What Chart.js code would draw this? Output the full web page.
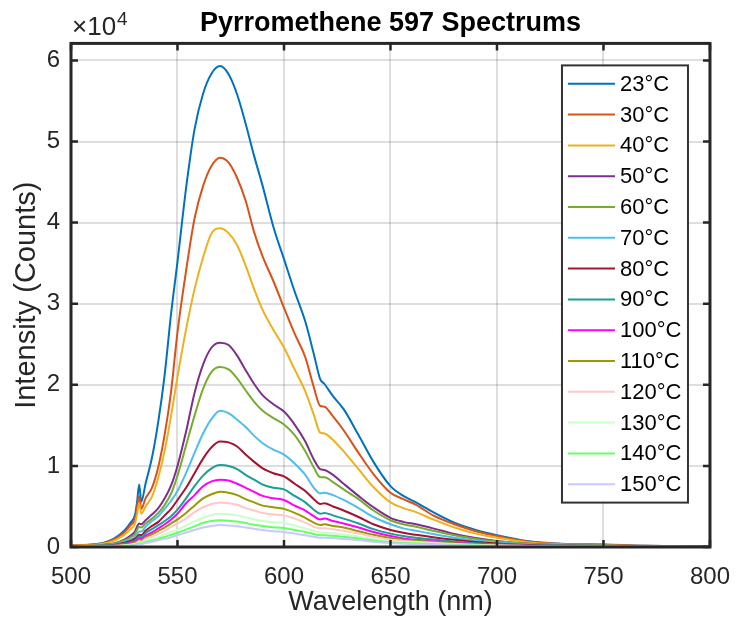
<!DOCTYPE html>
<html>
<head>
<meta charset="utf-8">
<title>Pyrromethene 597 Spectrums</title>
<script src="https://cdn.jsdelivr.net/npm/chart.js@4.4.1/dist/chart.umd.min.js"></script>
<style>
  body { margin: 0; background: #fff; }
  canvas { display: block; }
</style>
</head>
<body>
<canvas id="spectrumChart" width="746" height="628"></canvas>
<script>
// Wavelength axis (nm), shared by every spectrum
const wavelengths = [500, 510, 515, 520, 525, 528, 530, 531, 532, 533,
    535, 538, 541, 544, 547, 550, 554, 558, 562, 566,
    570, 574, 578, 582, 586, 590, 595, 600, 605, 610,
    614, 617, 619, 623, 628, 635, 642, 650, 656, 662,
    670, 680, 690, 700, 715, 730, 750, 770, 800];

// Intensity (counts), one array per temperature
const counts23 = [200, 300, 500, 1000, 2000, 3000, 3900, 5500, 7700, 5600,
    7800, 11000, 15500, 21300, 28800, 35200, 44200, 51500, 55900, 58400,
    59300, 58300, 55800, 52200, 48200, 44500, 39500, 35500, 31500, 27800,
    23800, 20700, 20100, 18600, 17000, 13800, 10500, 7500, 6300, 5500,
    4300, 3000, 2100, 1450, 700, 400, 300, 150, 100];
const counts30 = [200, 300, 450, 900, 1800, 2700, 3400, 4800, 6300, 4700,
    6000, 7300, 9900, 13900, 19200, 26500, 34000, 40500, 44500, 47000,
    48000, 47400, 45500, 42700, 38800, 35800, 32800, 29500, 26300, 23400,
    19700, 17400, 17300, 16100, 14400, 11600, 9000, 6700, 5900, 5200,
    3900, 2800, 1950, 1350, 650, 380, 280, 140, 90];
const counts40 = [150, 250, 400, 750, 1500, 2200, 2900, 4000, 5400, 4100,
    5000, 6200, 8600, 11900, 16200, 21000, 26800, 31800, 35700, 38700,
    39300, 38700, 37200, 34700, 31800, 29200, 26800, 24600, 21900, 19200,
    16300, 14100, 14000, 13200, 11800, 9600, 7400, 5500, 4800, 4300,
    3400, 2400, 1650, 1150, 550, 330, 250, 120, 80];
const counts50 = [100, 150, 250, 450, 900, 1400, 1900, 2500, 2900, 2800,
    3300, 4000, 4800, 6000, 7600, 10000, 14200, 19000, 22500, 24600,
    25200, 24900, 23600, 21800, 20100, 18700, 17600, 16700, 15100, 13000,
    10800, 9600, 9500, 8900, 7800, 6300, 4900, 3600, 3100, 2800,
    2300, 1600, 1100, 750, 400, 250, 180, 100, 70];
const counts60 = [100, 150, 220, 400, 800, 1200, 1600, 2100, 2500, 2400,
    2900, 3500, 4200, 5200, 6600, 8800, 12500, 16200, 19500, 21600,
    22200, 21900, 20800, 19300, 17900, 16800, 15900, 15100, 13800, 11800,
    9800, 8600, 8600, 8000, 7100, 5900, 4500, 3300, 2800, 2500,
    2000, 1450, 1000, 700, 380, 230, 170, 90, 60];
const counts70 = [80, 120, 180, 320, 650, 950, 1250, 1600, 1900, 1900,
    2500, 3200, 3800, 4700, 5700, 6900, 9100, 11600, 14000, 15800,
    16800, 16500, 15700, 14800, 13700, 12800, 12000, 11400, 10300, 8900,
    7300, 6600, 6700, 6400, 5800, 4800, 3700, 2800, 2300, 2000,
    1600, 1150, 800, 560, 320, 200, 150, 80, 50];
const counts80 = [60, 100, 150, 260, 520, 750, 1000, 1250, 1500, 1450,
    2000, 2600, 3100, 3900, 4700, 5800, 7300, 9100, 10900, 12300,
    13000, 12900, 12400, 11400, 10500, 9700, 9100, 8700, 7800, 6900,
    5900, 5300, 5400, 5000, 4500, 3700, 2800, 2100, 1750, 1500,
    1200, 880, 620, 440, 250, 160, 120, 60, 40];
const counts90 = [50, 80, 120, 210, 420, 600, 800, 1000, 1300, 1200,
    1700, 2200, 2700, 3200, 3800, 4600, 6000, 7500, 8800, 9700,
    10100, 10000, 9600, 8900, 8300, 7700, 7300, 7100, 6300, 5500,
    4600, 4100, 4200, 3900, 3500, 2900, 2200, 1650, 1350, 1150,
    930, 680, 470, 330, 190, 120, 90, 45, 30];
const counts100 = [40, 60, 100, 170, 340, 500, 650, 850, 1050, 1000,
    1400, 1800, 2300, 2800, 3400, 4100, 5400, 6400, 7500, 8100,
    8300, 8200, 7800, 7300, 6800, 6300, 6000, 5800, 5100, 4500,
    3800, 3400, 3500, 3200, 2900, 2400, 1850, 1350, 1050, 900,
    720, 530, 370, 260, 150, 95, 75, 40, 25];
const counts110 = [30, 50, 80, 140, 280, 400, 520, 680, 850, 800,
    1200, 1550, 2000, 2400, 2900, 3400, 4200, 5100, 6000, 6500,
    6800, 6700, 6400, 5900, 5500, 5100, 4900, 4700, 4200, 3600,
    3000, 2700, 2800, 2600, 2400, 1950, 1500, 1100, 900, 770,
    620, 450, 320, 230, 130, 80, 60, 30, 20];
const counts120 = [25, 40, 60, 110, 220, 320, 420, 550, 700, 650,
    1000, 1300, 1650, 2000, 2500, 2900, 3500, 4300, 4900, 5300,
    5500, 5400, 5200, 4800, 4500, 4200, 4000, 3900, 3500, 3000,
    2500, 2300, 2300, 2200, 2000, 1650, 1250, 900, 750, 650,
    520, 380, 270, 190, 110, 70, 50, 25, 15];
const counts130 = [20, 30, 50, 85, 170, 250, 330, 430, 550, 500,
    750, 1000, 1250, 1550, 1850, 2150, 2650, 3150, 3600, 3950,
    4100, 4050, 3900, 3650, 3400, 3200, 3050, 2950, 2650, 2300,
    2000, 1800, 1800, 1700, 1550, 1300, 1000, 720, 600, 520,
    420, 300, 210, 150, 90, 55, 40, 20, 10];
const counts140 = [15, 25, 40, 70, 140, 200, 270, 350, 450, 410,
    600, 800, 1000, 1250, 1500, 1750, 2150, 2550, 2950, 3200,
    3300, 3250, 3150, 2950, 2750, 2600, 2450, 2350, 2100, 1850,
    1600, 1450, 1450, 1380, 1250, 1050, 800, 580, 480, 420,
    340, 250, 170, 120, 70, 45, 30, 15, 10];
const counts150 = [10, 20, 30, 55, 110, 160, 220, 280, 360, 330,
    480, 650, 820, 1000, 1200, 1450, 1780, 2100, 2400, 2600,
    2700, 2650, 2550, 2400, 2250, 2100, 1950, 1850, 1650, 1450,
    1250, 1150, 1150, 1100, 1000, 850, 650, 480, 400, 340,
    280, 200, 140, 100, 60, 40, 25, 12, 8];

const seriesLabels = ['23°C', '30°C', '40°C', '50°C', '60°C', '70°C', '80°C',
    '90°C', '100°C', '110°C', '120°C', '130°C', '140°C', '150°C'];
const seriesCounts = [counts23, counts30, counts40, counts50, counts60, counts70, counts80,
    counts90, counts100, counts110, counts120, counts130, counts140, counts150];
const seriesColors = ['#0072BD', '#D95319', '#EDB120', '#7E2F8E', '#77AC30', '#4DBEEE', '#A2142F',
    '#1A9E9A', '#FF00FF', '#999900', '#FFC9C9', '#C9FFC9', '#66FF66', '#C9C9FF'];

// Axis ticks and limits
const xTickValues = [500, 550, 600, 650, 700, 750, 800];
const yTickValues = [0, 10000, 20000, 30000, 40000, 50000, 60000];
const xLimits = [500, 800];
const yLimits = [0, 62100];
const yExponent = 4;

const fontFamily = "'Liberation Sans', Arial, Helvetica, sans-serif";
const axisColor = '#262626';

// Build the datasets: later temperatures are drawn on top, like in MATLAB
let datasets = seriesLabels.map(function (label, i) {
    return {
        label: label,
        data: wavelengths.map(function (w, k) { return {x: w, y: seriesCounts[i][k]}; }),
        borderColor: seriesColors[i],
        backgroundColor: seriesColors[i],
        borderWidth: 2,
        pointRadius: 0,
        fill: false,
        cubicInterpolationMode: 'monotone',
        order: seriesLabels.length - i
    };
});

// Box, inner ticks, exponent label and the legend inside the axes
const matlabFrame = {
    id: 'matlabFrame',
    afterDatasetsDraw(chart) {
        const ctx = chart.ctx;
        const area = chart.chartArea;
        const xs = chart.scales.x;
        const ys = chart.scales.y;
        const tickLen = 7;

        ctx.save();
        ctx.strokeStyle = axisColor;
        ctx.lineWidth = 2.5;

        // inner tick marks on all four sides
        ctx.beginPath();
        xs.ticks.forEach(function (t) {
            const px = xs.getPixelForValue(t.value);
            ctx.moveTo(px, area.bottom);
            ctx.lineTo(px, area.bottom - tickLen);
            ctx.moveTo(px, area.top);
            ctx.lineTo(px, area.top + tickLen);
        });
        ys.ticks.forEach(function (t) {
            const py = ys.getPixelForValue(t.value);
            ctx.moveTo(area.left, py);
            ctx.lineTo(area.left + tickLen, py);
            ctx.moveTo(area.right, py);
            ctx.lineTo(area.right - tickLen, py);
        });
        ctx.stroke();

        // the box
        ctx.lineWidth = 3;
        ctx.strokeRect(area.left, area.top, area.right - area.left, area.bottom - area.top);

        // x10^4 above the y axis
        ctx.fillStyle = axisColor;
        ctx.textBaseline = 'alphabetic';
        ctx.textAlign = 'left';
        ctx.font = '26px ' + fontFamily;
        ctx.fillText('\u00D710', area.left + 1, 35);
        const w = ctx.measureText('\u00D710').width;
        ctx.font = '19px ' + fontFamily;
        ctx.fillText(String(yExponent), area.left + 1 + w + 1, 25);

        // legend box
        const rowH = 30.8;
        const boxR = area.right - 22;
        const boxL = boxR - 126;
        const boxT = area.top + 22;
        const boxB = boxT + 6 + rowH * chart.data.datasets.length;
        ctx.fillStyle = '#ffffff';
        ctx.fillRect(boxL, boxT, boxR - boxL, boxB - boxT);
        ctx.strokeStyle = '#333333';
        ctx.lineWidth = 2;
        ctx.strokeRect(boxL, boxT, boxR - boxL, boxB - boxT);

        ctx.font = '22px ' + fontFamily;
        ctx.textBaseline = 'middle';
        chart.data.datasets.forEach(function (ds, i) {
            const cy = boxT + 3 + rowH * (i + 0.5);
            ctx.strokeStyle = ds.borderColor;
            ctx.lineWidth = 2;
            ctx.beginPath();
            ctx.moveTo(boxL + 6, cy);
            ctx.lineTo(boxL + 53, cy);
            ctx.stroke();
            ctx.fillStyle = '#000000';
            ctx.fillText(ds.label, boxL + 58, cy + 1);
        });
        ctx.restore();
    }
};

var spectrumChart = new Chart(document.getElementById('spectrumChart'), {
    type: 'line',
    data: {datasets: datasets},
    options: {
        responsive: false,
        animation: false,
        layout: {padding: {top: 0, right: 34, left: 0, bottom: 0}},
        plugins: {
            legend: {display: false},
            tooltip: {enabled: false},
            title: {
                display: true,
                text: 'Pyrromethene 597 Spectrums',
                fullSize: false,
                color: '#000000',
                font: {family: fontFamily, size: 27, weight: 'bold'},
                padding: {top: 7, bottom: 4}
            }
        },
        scales: {
            x: {
                type: 'linear',
                min: xLimits[0],
                max: xLimits[1],
                afterBuildTicks: function (scale) {
                    scale.ticks = xTickValues.map(function (v) { return {value: v}; });
                },
                ticks: {
                    maxRotation: 0,
                    autoSkip: false,
                    padding: 16,
                    color: axisColor,
                    font: {family: fontFamily, size: 24}
                },
                grid: {color: 'rgba(0,0,0,0.13)', lineWidth: 2, drawTicks: false},
                border: {display: false},
                title: {
                    display: true,
                    text: 'Wavelength (nm)',
                    color: axisColor,
                    font: {family: fontFamily, size: 27},
                    padding: {top: 0, bottom: 9}
                },
                afterFit: function (scale) { scale.height = 81; }
            },
            y: {
                min: yLimits[0],
                max: yLimits[1],
                afterBuildTicks: function (scale) {
                    scale.ticks = yTickValues.map(function (v) { return {value: v}; });
                },
                ticks: {
                    padding: 11,
                    color: axisColor,
                    font: {family: fontFamily, size: 24},
                    callback: function (value) { return value / Math.pow(10, yExponent); }
                },
                grid: {color: 'rgba(0,0,0,0.13)', lineWidth: 2, drawTicks: false},
                border: {display: false},
                title: {
                    display: true,
                    text: 'Intensity (Counts)',
                    color: axisColor,
                    font: {family: fontFamily, size: 29},
                    padding: {top: 10, bottom: 0}
                },
                afterFit: function (scale) { scale.width = 71; }
            }
        }
    },
    plugins: [matlabFrame]
});
</script>
</body>
</html>
